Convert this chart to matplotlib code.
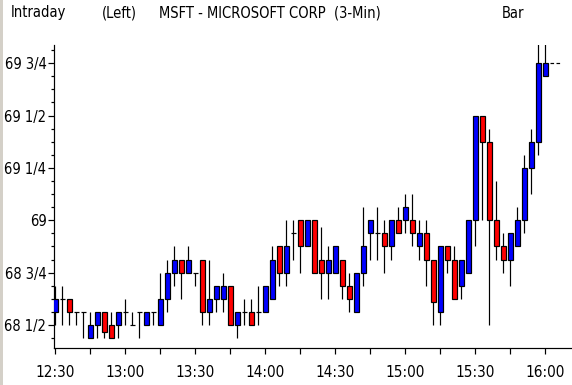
import matplotlib
matplotlib.use("Agg")
import matplotlib.pyplot as plt
from matplotlib import font_manager
from matplotlib.patches import Rectangle

# ---- data (3-minute bars, 12:30 .. 16:00) ----
opens = [68.5625, 68.625, 68.625, 68.5625, 68.5625, 68.4375, 68.5, 68.5625, 68.5, 68.5,
         68.5625, 68.5, 68.5625, 68.5, 68.5625, 68.5, 68.625, 68.75, 68.8125, 68.75,
         68.75, 68.8125, 68.5625, 68.625, 68.625, 68.6875, 68.5, 68.5625, 68.5625, 68.5625,
         68.5625, 68.625, 68.875, 68.75, 68.9375, 69.0, 68.875, 69.0, 68.8125, 68.75,
         68.75, 68.8125, 68.6875, 68.5625, 68.75, 68.9375, 68.9375, 68.9375, 68.875, 69.0,
         69.0, 69.0, 68.875, 68.9375, 68.8125, 68.5625, 68.875, 68.8125, 68.6875, 68.75,
         69.0, 69.5, 69.375, 69.0, 68.875, 68.8125, 68.875, 69.0, 69.25, 69.375,
         69.6875]
highs = [68.6875, 68.6875, 68.625, 68.5625, 68.5625, 68.5625, 68.5625, 68.5625, 68.5625, 68.5625,
         68.625, 68.5625, 68.5625, 68.5625, 68.5625, 68.75, 68.8125, 68.875, 68.8125, 68.875,
         68.75, 68.8125, 68.8125, 68.6875, 68.75, 68.6875, 68.5625, 68.625, 68.625, 68.6875,
         68.6875, 68.875, 68.875, 69.0, 69.0, 69.0, 69.0, 69.0, 68.96875, 68.875,
         68.875, 68.8125, 68.75, 68.75, 69.0625, 69.0, 69.0625, 69.0, 69.0, 69.0625,
         69.125, 69.125, 69.0, 69.0, 68.8125, 68.875, 68.875, 68.875, 68.8125, 69.0,
         69.5, 69.5, 69.4375, 69.1875, 68.9375, 68.9375, 69.0625, 69.3125, 69.4375, 69.875,
         69.875]
lows = [68.5, 68.5, 68.5, 68.5, 68.4375, 68.4375, 68.4375, 68.4375, 68.4375, 68.4375,
        68.5, 68.5, 68.4375, 68.5, 68.5, 68.5, 68.5625, 68.6875, 68.625, 68.75,
        68.6875, 68.5, 68.5, 68.5625, 68.5625, 68.5, 68.4375, 68.5, 68.5, 68.5,
        68.5625, 68.625, 68.6875, 68.6875, 68.8125, 68.75, 68.875, 68.75, 68.625, 68.625,
        68.75, 68.625, 68.5625, 68.5625, 68.6875, 68.8125, 68.8125, 68.75, 68.8125, 68.9375,
        68.9375, 68.875, 68.8125, 68.6875, 68.5, 68.5, 68.75, 68.625, 68.625, 68.75,
        68.875, 69.0, 68.5, 68.8125, 68.75, 68.6875, 68.875, 68.9375, 69.125, 69.3125,
        69.6875]
closes = [68.625, 68.625, 68.5625, 68.5625, 68.5625, 68.5, 68.5625, 68.46875, 68.4375, 68.5625,
          68.5625, 68.5, 68.5625, 68.5625, 68.5625, 68.625, 68.75, 68.8125, 68.75, 68.8125,
          68.75, 68.5625, 68.625, 68.6875, 68.6875, 68.5, 68.5625, 68.5625, 68.5, 68.5625,
          68.6875, 68.8125, 68.75, 68.875, 68.9375, 68.875, 69.0, 68.75, 68.75, 68.8125,
          68.875, 68.6875, 68.625, 68.75, 68.875, 69.0, 68.9375, 68.875, 69.0, 68.9375,
          69.0625, 68.9375, 68.9375, 68.8125, 68.61, 68.875, 68.8125, 68.625, 68.8125, 69.0,
          69.5, 69.375, 69.0, 68.875, 68.8125, 68.9375, 69.0, 69.25, 69.375, 69.75,
          69.75]
time_labels = ["12:30", "13:00", "13:30", "14:00", "14:30", "15:00", "15:30", "16:00"]
price_ticks = [68.5, 68.75, 69.0, 69.25, 69.5, 69.75]
price_labels = ["68 1/2", "68 3/4", "69", "69 1/4", "69 1/2", "69 3/4"]

UP = "#0000FF"
DOWN = "#FF0000"
PX = 0.72  # one pixel in points at dpi 100

fonts = font_manager.fontManager.ttflist
avail = {f.name for f in fonts}
has_cond = any(f.name == "DejaVu Sans" and "condensed" in str(f.stretch) for f in fonts)
if "Liberation Sans Narrow" in avail:
    FAM, STRETCH, FS = ["Liberation Sans Narrow", "DejaVu Sans"], "normal", 11.5
elif has_cond:
    FAM, STRETCH, FS = ["DejaVu Sans"], "condensed", 10.5
else:
    FAM, STRETCH, FS = ["DejaVu Sans"], "normal", 9.5

fig = plt.figure(figsize=(5.72, 3.85), dpi=100)
fig.patch.set_facecolor("white")
fig.patches.append(Rectangle((0, 0), 3 / 572, 1, transform=fig.transFigure,
                             facecolor="#D4D0C8", edgecolor="none"))

ax = fig.add_axes([54 / 572, 37 / 385, 518 / 572, 303 / 385])
ax.set_facecolor("white")

n = len(opens)
bw = 0.7
for i in range(n):
    o, h, l, c = opens[i], highs[i], lows[i], closes[i]
    ax.vlines(i, l, h, color="black", linewidth=1.2 * PX, zorder=2)
    if o == c:
        ax.hlines(o, i - bw / 2, i + bw / 2, color="black", linewidth=1.2 * PX, zorder=3)
    else:
        col = UP if c > o else DOWN
        ax.add_patch(Rectangle((i - bw / 2, min(o, c)), bw, abs(c - o),
                               facecolor=col, edgecolor="black",
                               linewidth=1.2 * PX, zorder=3))

# last-price marker
ax.hlines(closes[-1], n - 1 + 0.65, n - 1 + 2.4, color="black",
          linewidth=1.2 * PX, linestyles=(0, (3, 2)), zorder=3)

ax.set_xlim(-0.214, 73.79)
ax.set_ylim(68.39, 69.837)

for s in ["top", "right"]:
    ax.spines[s].set_visible(False)
for s in ["left", "bottom"]:
    ax.spines[s].set_linewidth(1.2 * PX)
    ax.spines[s].set_color("black")

major_x = list(range(0, n, 10))
ax.set_xticks(major_x)
ax.set_xticklabels(time_labels)
ax.set_xticks([m + 5 for m in major_x[:-1]], minor=True)
ax.tick_params(axis="x", which="both", direction="out", length=6 * PX,
               width=1.2 * PX, color="black", pad=11 * PX)
ax.tick_params(axis="x", which="major", labelsize=FS + 0.5)

ax.set_yticks(price_ticks)
ax.set_yticklabels(price_labels)
minor_y = []
v = 68.4375
while v <= 69.8125 + 1e-9:
    if all(abs(v - t) > 1e-9 for t in price_ticks):
        minor_y.append(v)
    v += 0.0625
ax.set_yticks(minor_y, minor=True)
ax.tick_params(axis="y", which="major", direction="out", length=6 * PX,
               width=1.2 * PX, color="black", pad=1.5 * PX, labelsize=FS)
ax.tick_params(axis="y", which="minor", direction="out", length=3 * PX,
               width=1.2 * PX, color="black")

for lab in ax.get_xticklabels() + ax.get_yticklabels():
    lab.set_fontfamily(FAM)
    lab.set_fontstretch(STRETCH)

# header texts
hy = 1 - 13 / 385
kw = dict(ha="left", va="center", fontsize=FS, family=FAM, fontstretch=STRETCH)
fig.text(11 / 572, hy, "Intraday", **kw)
fig.text(102 / 572, hy, "(Left)", **kw)
fig.text(159 / 572, hy, "MSFT - MICROSOFT CORP  (3-Min)", **kw)
fig.text(502 / 572, hy, "Bar", **kw)

fig.savefig("out.png", dpi=100, facecolor="white")
